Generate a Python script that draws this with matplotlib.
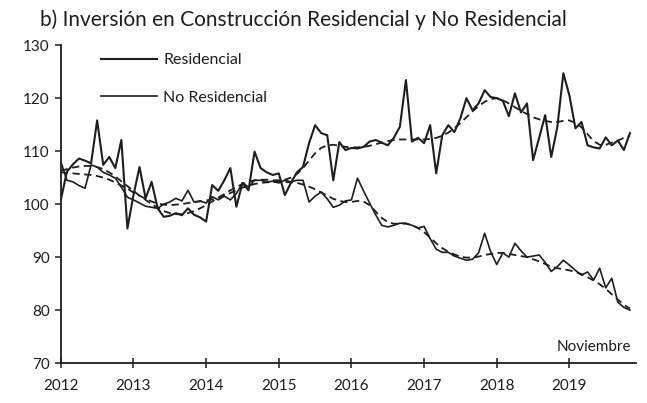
import matplotlib
matplotlib.use("Agg")
import matplotlib.pyplot as plt
import numpy as np

plt.rcParams["font.family"] = ["Lato", "DejaVu Sans"]

# monthly index: Jan 2012 .. Nov 2019
years = ["2012", "2013", "2014", "2015", "2016", "2017", "2018", "2019"]

residencial = [
    100.8, 106.1, 107.5, 108.6, 108.2, 107.7, 115.8, 107.4, 108.9, 106.8, 112.1, 95.4,
    101.7, 107.0, 101.1, 104.2, 99.2, 97.6, 97.8, 98.3, 97.9, 99.2, 98.0, 97.5,
    96.7, 103.6, 102.5, 104.5, 106.8, 99.5, 104.0, 102.6, 109.9, 106.8, 106.0, 105.5,
    105.8, 101.7, 104.0, 106.0, 107.0, 111.5, 114.9, 113.4, 113.0, 104.5, 111.7, 110.2,
    110.6, 110.5, 110.8, 111.8, 112.1, 111.6, 111.1, 112.5, 114.6, 123.4, 111.8, 112.5,
    111.5, 114.9, 105.8, 113.0, 114.9, 113.6, 116.2, 120.0, 117.7, 119.0, 121.5, 120.2,
    120.0, 119.5, 116.6, 120.9, 117.3, 119.0, 108.3, 112.5, 116.8, 108.9, 114.5, 124.7,
    120.5, 114.3, 115.5, 111.1, 110.7, 110.5, 112.6, 111.1, 112.0, 110.2, 113.4,
]
residencial_tend = [
    106.3, 106.6, 106.9, 107.1, 107.2, 107.2, 107.0, 106.6, 106.0, 105.2, 104.3, 103.4,
    102.5, 101.6, 100.8, 100.0, 99.3, 98.7, 98.3, 98.1, 98.1, 98.3, 98.7, 99.2,
    99.8, 100.5, 101.2, 101.9, 102.6, 103.2, 103.8, 104.2, 104.5, 104.6, 104.6, 104.5,
    104.5, 104.6, 105.0, 105.7, 106.8, 108.2, 109.6, 110.6, 111.1, 111.2, 111.0, 110.8,
    110.7, 110.7, 110.8, 111.0, 111.3, 111.6, 111.9, 112.1, 112.2, 112.2, 112.2, 112.2,
    112.2, 112.3, 112.5, 112.9, 113.5, 114.3, 115.3, 116.4, 117.5, 118.5, 119.3, 119.8,
    120.0, 119.6, 119.0, 118.3, 117.6, 117.0, 116.4, 116.0, 115.7, 115.5, 115.5, 115.7,
    115.8, 115.3, 114.5, 113.2, 111.9, 111.2, 111.2, 111.6, 112.0, 112.5, 112.9,
]
no_residencial = [
    108.0, 104.5, 104.2, 103.5, 103.0, 107.4, 107.0, 106.0, 105.5, 104.9, 103.2, 101.3,
    100.8, 100.2, 99.6, 99.4, 99.2, 100.0, 100.4, 101.1, 100.6, 102.6, 100.4, 100.6,
    100.2, 101.4, 100.8, 101.5, 100.8, 102.0, 104.0, 103.2, 104.5, 104.5, 104.2, 104.3,
    104.0, 104.5, 104.2, 104.5, 104.5, 100.4, 101.5, 102.3, 101.0, 99.4, 99.8, 100.6,
    100.8, 104.9, 102.5, 100.2, 98.0, 96.0, 95.7, 96.0, 96.4, 96.4, 96.0, 95.5,
    95.8, 93.5, 91.5, 90.9, 90.9, 90.2, 89.8, 89.4, 89.6, 90.8, 94.5, 91.0,
    88.6, 90.8, 90.0, 92.6, 91.2, 90.0, 90.2, 90.4, 89.0, 87.3, 88.2, 89.4,
    88.5, 87.5, 86.6, 87.2, 85.7, 87.9, 84.2, 86.0, 81.5, 80.5, 80.0,
]
no_residencial_tend = [
    106.0, 105.9, 105.8, 105.7, 105.6, 105.5, 105.3, 105.0, 104.6, 104.1, 103.5, 102.9,
    102.2, 101.6, 101.0, 100.5, 100.1, 99.9, 99.8, 99.9, 100.0, 100.2, 100.4, 100.5,
    100.7, 100.9, 101.2, 101.6, 102.1, 102.6, 103.1, 103.5, 103.8, 104.0, 104.1, 104.2,
    104.2, 104.2, 104.1, 104.0, 103.7, 103.3, 102.8, 102.2, 101.6, 101.0, 100.6, 100.4,
    100.4, 100.6, 100.5, 99.8, 98.6, 97.4, 96.6, 96.3, 96.3, 96.3, 96.0, 95.5,
    94.7, 93.7, 92.6, 91.7, 91.0, 90.5, 90.1, 89.9, 89.9, 90.1, 90.4, 90.6,
    90.8, 90.8, 90.6, 90.4, 90.2, 90.0, 89.6, 89.2, 88.7, 88.2, 87.9, 87.7,
    87.5, 87.2, 86.8, 86.2, 85.6, 84.9, 84.0, 83.0, 82.0, 81.0, 80.3,
]

months = np.arange(len(residencial))
ink = "#1e1e1e"

fig = plt.figure(figsize=(6.47, 4.03), dpi=100)
ax = fig.add_axes([0.094, 0.099, 0.889, 0.789])

ax.plot(months, residencial, color=ink, linewidth=1.5, label="Residencial")
ax.plot(months, no_residencial, color=ink, linewidth=1.2, label="No Residencial")
ax.plot(months, residencial_tend, color=ink, linewidth=1.3, dashes=(4, 2.5))
ax.plot(months, no_residencial_tend, color=ink, linewidth=1.3, dashes=(4, 2.5))

ax.set_xlim(0, 95)
ax.set_ylim(70, 130)
ax.set_yticks(range(70, 131, 10))
ax.set_xticks(range(0, 96, 12)[:len(years)], years)

for s in ["top", "right"]:
    ax.spines[s].set_visible(False)
for s in ["left", "bottom"]:
    ax.spines[s].set_color(ink)
    ax.spines[s].set_linewidth(1.3)
ax.tick_params(axis="y", direction="out", length=4, width=1.1, colors=ink,
               labelsize=11, pad=4)
ax.tick_params(axis="x", direction="inout", length=7, width=1.1, colors=ink,
               labelsize=11, pad=8)

ax.legend(loc="upper left", bbox_to_anchor=(0.045, 1.02), frameon=False,
          fontsize=11.5, handlelength=3.5, labelspacing=1.45, handletextpad=0.4,
          labelcolor=ink)

ax.text(0.992, 0.03, "Noviembre", transform=ax.transAxes, ha="right", va="bottom",
        fontsize=11, color=ink)
fig.text(0.062, 0.95, "b) Inversión en Construcción Residencial y No Residencial",
         fontsize=15, color=ink, ha="left", va="center")

fig.savefig("out.png", dpi=100)
